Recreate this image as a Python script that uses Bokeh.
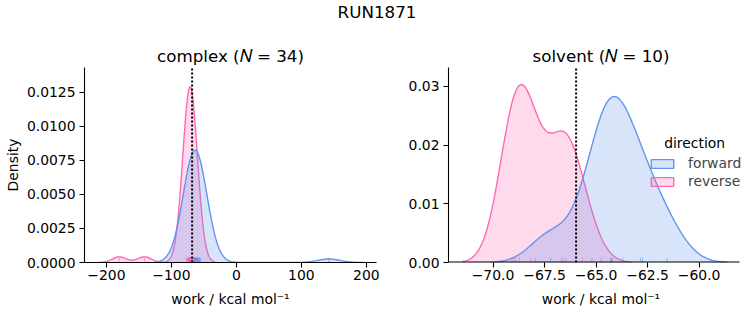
import numpy as np
from bokeh.plotting import figure
from bokeh.models import Range1d, FixedTicker, Legend, LegendItem, CustomJSTickFormatter, Label
from bokeh.layouts import column, row
from bokeh.embed import file_html
from bokeh.resources import INLINE

# ---------------- data ----------------
suptitle = "RUN1871"
phases = ["complex", "solvent"]
n_pairs = [34, 10]
directions = ["forward", "reverse"]
legend_title = "direction"

complex_forward = [-73.5, -71.6, -70.3, -69.4, -68.5, -67.8, -67.2, -66.6, -66.1, -65.6,
                   -65.4, -65.2, -64.8, -64.4, -64.3, -64.0, -63.6, -63.2, -62.8, -62.5,
                   -62.4, -62.0, -61.6, -61.2, -60.7, -60.2, -59.7, -59.1, -58.5, -57.8,
                   -57.1, -56.3, -55.4, 142.5]
complex_reverse = [-180.2, -141.5, -77.1, -76.0, -75.2, -74.6, -74.1, -73.7, -73.3, -73.0,
                   -72.7, -72.4, -72.2, -72.0, -71.8, -71.6, -71.4, -71.2, -71.0, -70.8,
                   -70.6, -70.4, -70.2, -69.9, -69.6, -69.3, -69.0, -68.6, -68.2, -67.7,
                   -67.1, -66.4, -65.5, -71.7]
solvent_forward = [-67.21, -65.2, -64.75, -64.3, -64.25, -64.2, -63.7, -62.85, -62.75, -61.55]
solvent_reverse = [-69.1, -69.0, -68.9, -68.72, -68.18, -67.94, -66.68, -66.58, -66.46, -65.66]
estimates = [-68.1, -65.97]

complex_xticks = [-200, -100, 0, 100, 200]
complex_xtick_labels = ["\u2212200", "\u2212100", "0", "100", "200"]
complex_yticks = [0.0, 0.0025, 0.005, 0.0075, 0.01, 0.0125]
complex_ytick_labels = ["0.0000", "0.0025", "0.0050", "0.0075", "0.0100", "0.0125"]
solvent_xticks = [-70.0, -67.5, -65.0, -62.5, -60.0]
solvent_xtick_labels = ["\u221270.0", "\u221267.5", "\u221265.0", "\u221262.5", "\u221260.0"]
solvent_yticks = [0.0, 0.01, 0.02, 0.03]
solvent_ytick_labels = ["0.00", "0.01", "0.02", "0.03"]

x_label = "work / kcal mol\u207b\u00b9"
y_label = "Density"

# ---------------- style ----------------
BLUE = "#6495ED"
PINK = "#FF69B4"
FONT = "DejaVu Sans"
TICK_FS = "13.9px"
TITLE_FS = "16.7px"

all_samples = [complex_forward, complex_reverse, solvent_forward, solvent_reverse]
n_total = sum(len(a) for a in all_samples)


def kde(samples):
    x = np.asarray(samples, dtype=float)
    bw = x.std(ddof=1) * len(x) ** (-1 / 5)
    grid = np.linspace(x.min() - 3 * bw, x.max() + 3 * bw, 200)
    dens = np.exp(-0.5 * ((grid[:, None] - x[None, :]) / bw) ** 2).sum(axis=1)
    dens = dens / (bw * np.sqrt(2 * np.pi)) / n_total
    return grid, dens


def formatter(tv, tl):
    return CustomJSTickFormatter(args=dict(tvals=tv, tlabs=tl), code="""
        for (let i = 0; i < tvals.length; i++) {
            if (Math.abs(tvals[i] - tick) < 1e-9) { return tlabs[i]; }
        }
        return '';
    """)


def make_panel(name, n, fwd, rev, est, xr, axis_end, yr, xt, xtl, yt, ytl, width,
               b_left, b_right, ylab):
    p = figure(width=width, height=285, x_range=Range1d(*xr), y_range=Range1d(*yr),
               output_backend="svg", toolbar_location=None,
               min_border_left=b_left, min_border_right=b_right,
               min_border_top=27, min_border_bottom=63)
    p.outline_line_color = None
    p.grid.visible = False
    p.title.text = f"{name} (\U0001D441 = {n})"
    p.title.align = "center"
    p.title.text_font = FONT
    p.title.text_font_size = TITLE_FS
    p.title.text_font_style = "normal"
    p.title.text_color = "black"
    p.title.standoff = 3

    for samples, color in [(rev, PINK), (fwd, BLUE)]:
        g, d = kde(samples)
        p.varea(x=g, y1=0, y2=d, fill_color=color, fill_alpha=0.25)
        p.line(g, d, line_color=color, line_width=1.4)

    rug_h = 0.025 * (yr[1] - yr[0])
    for samples, color in [(fwd, BLUE), (rev, PINK)]:
        p.segment(x0=samples, y0=[0] * len(samples), x1=samples, y1=[rug_h] * len(samples),
                  line_color=color, line_width=1, line_alpha=0.6)

    p.segment(x0=[est], y0=[yr[0]], x1=[est], y1=[yr[1]], line_color="black",
              line_width=2, line_dash="2 2")

    for ax, ticks, labels in [(p.xaxis[0], xt, xtl), (p.yaxis[0], yt, ytl)]:
        ax.ticker = FixedTicker(ticks=ticks)
        ax.formatter = formatter(ticks, labels)
        ax.major_label_text_font = FONT
        ax.major_label_text_font_size = TICK_FS
        ax.major_label_text_color = "black"
        ax.axis_line_width = 1.1
        ax.major_tick_line_width = 1.1
        ax.major_tick_in = 0
        ax.major_tick_out = 5
        ax.minor_tick_line_color = None
        ax.major_label_standoff = 4
        ax.axis_label_text_font = FONT
        ax.axis_label_text_font_size = TICK_FS
        ax.axis_label_text_font_style = "normal"
        ax.axis_label_text_color = "black"
    p.xaxis[0].axis_label = x_label
    p.xaxis[0].axis_label_standoff = 8
    p.xaxis[0].major_label_standoff = 2
    if axis_end is not None:
        # spine stops at the axes' edge while the frame continues under the legend
        p.xaxis[0].axis_line_color = None
        p.segment(x0=[xr[0]], y0=[0], x1=[axis_end], y1=[0], line_color="black",
                  line_width=2.2)
    if ylab:
        p.yaxis[0].axis_label = y_label
        p.yaxis[0].axis_label_standoff = 3
    return p


p1 = make_panel(phases[0], n_pairs[0], complex_forward, complex_reverse, estimates[0],
                (-233.7, 215.6), None, (0, 0.01432), complex_xticks, complex_xtick_labels,
                complex_yticks, complex_ytick_labels, 400, 84, 24, True)
p2 = make_panel(phases[1], n_pairs[1], solvent_forward, solvent_reverse, estimates[1],
                (-72.16, -57.363), -58.04, (0, 0.0332), solvent_xticks, solvent_xtick_labels,
                solvent_yticks, solvent_ytick_labels, 353, 48, 0, False)

# legend (patch-style entries); the quads lie outside the visible range
qf = p2.quad(left=[-90], right=[-89], top=[0.01], bottom=[0], fill_color=BLUE,
             fill_alpha=0.25, line_color=BLUE, line_width=1.4)
qr = p2.quad(left=[-90], right=[-89], top=[0.01], bottom=[0], fill_color=PINK,
             fill_alpha=0.25, line_color=PINK, line_width=1.4)
legend = Legend(items=[LegendItem(label=directions[0], renderers=[qf]),
                       LegendItem(label=directions[1], renderers=[qr])],
                location=(200, 73))
legend.label_text_font = FONT
legend.label_text_font_size = TICK_FS
legend.glyph_width = 28
legend.glyph_height = 11
legend.label_height = 13
legend.label_standoff = 12
legend.spacing = 2
legend.padding = 0
legend.margin = 0
legend.border_line_color = None
legend.background_fill_alpha = 0
p2.add_layout(legend)
p2.add_layout(Label(x=-60.22, y=0.0204, text=legend_title, text_align="center",
                    text_baseline="middle", text_font=FONT, text_font_size=TICK_FS,
                    text_color="black"))

# figure title
pt = figure(width=753, height=40, x_range=Range1d(0, 1), y_range=Range1d(0, 1),
            output_backend="svg", toolbar_location=None, min_border=0)
pt.outline_line_color = None
pt.axis.visible = False
pt.grid.visible = False
pt.text(x=[0.5], y=[1 - 11 / 40], text=[suptitle], text_align="center",
        text_baseline="middle", text_font_size=TITLE_FS, text_font={"value": FONT},
        text_color="black")

layout = column(pt, row(p1, p2))
open("out.html", "w").write(file_html(layout, INLINE))
